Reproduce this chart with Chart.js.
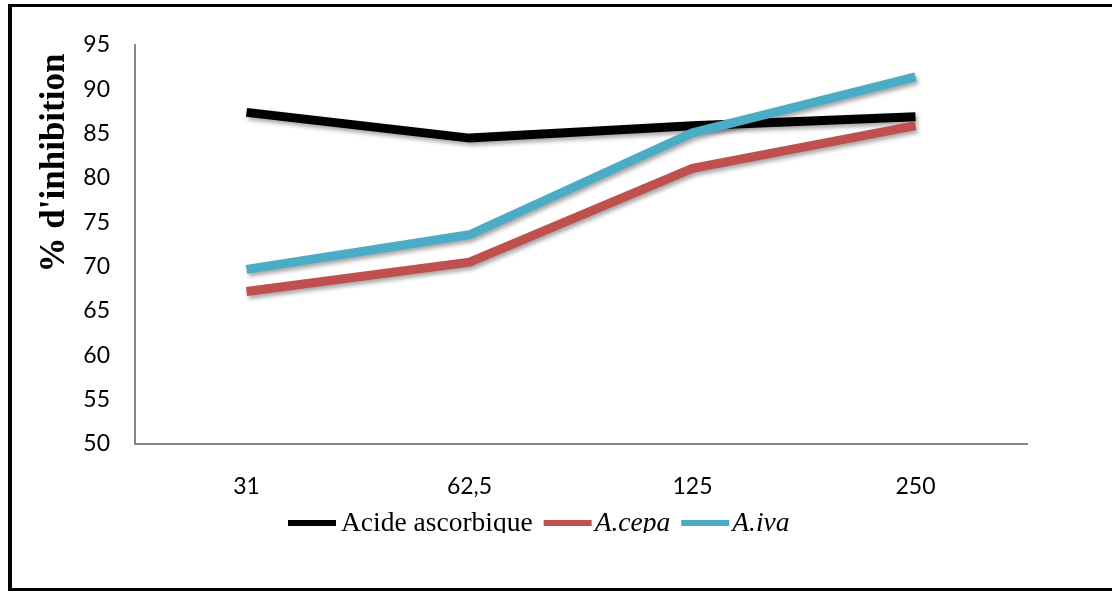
<!DOCTYPE html>
<html>
<head>
<meta charset="utf-8">
<script src="https://cdn.jsdelivr.net/npm/chart.js@4/dist/chart.umd.min.js"></script>
<style>
  body { margin: 0; background: #fff; overflow: hidden; }
  #wrap { position: relative; width: 1112px; height: 592px; }
  #frame {
    position: absolute; left: 8px; top: 4px; width: 1200px; height: 587px;
    box-sizing: border-box; border: 3px solid #000; border-left-width: 4px;
    pointer-events: none;
  }
</style>
</head>
<body>
<div id="wrap">
  <canvas id="graphCanvas" width="1112" height="592"></canvas>
  <div id="frame"></div>
</div>
<script>
// concentrations (x axis)
var categories = ['31', '62,5', '125', '250'];

// % inhibition per sample
var acideAscorbique = [87.4, 84.5, 85.9, 86.9];
var aCepa = [67.2, 70.5, 81.1, 85.9];
var aIva = [69.7, 73.6, 85.1, 91.4];

var seriesNames = ['Acide ascorbique', 'A.cepa', 'A.iva'];
var seriesItalic = [false, true, true];
var seriesColors = ['#000000', '#C0504D', '#4BACC6'];

var yMin = 50, yMax = 95, yStep = 5;
var yTitle = "% d'inhibition";

// soft drop shadow under each line
var shadowPlugin = {
  id: 'lineShadow',
  beforeDatasetDraw: function(chart) {
    var ctx = chart.ctx;
    ctx.save();
    ctx.shadowColor = 'rgba(0,0,0,0.35)';
    ctx.shadowBlur = 4;
    ctx.shadowOffsetX = 2;
    ctx.shadowOffsetY = 3;
  },
  afterDatasetDraw: function(chart) {
    chart.ctx.restore();
  }
};

// y title + legend row under the axis (mixed upright / italic labels)
var textPlugin = {
  id: 'extraText',
  afterDraw: function(chart) {
    var ctx = chart.ctx;

    ctx.save();
    ctx.translate(64, 163);
    ctx.rotate(-Math.PI / 2);
    ctx.font = 'bold 35px "Liberation Serif"';
    ctx.fillStyle = '#000';
    ctx.textAlign = 'center';
    ctx.textBaseline = 'alphabetic';
    ctx.fillText(yTitle, 0, 0);
    ctx.restore();

    ctx.save();
    ctx.beginPath();
    ctx.rect(0, 0, chart.width, 533);
    ctx.clip();
    var x = 288, y = 523;
    chart.data.datasets.forEach(function(ds, i) {
      ctx.fillStyle = ds.borderColor;
      ctx.fillRect(x, y - 3, 48, 6);
      x += 48 + (seriesItalic[i] ? 3 : 5);
      ctx.font = (seriesItalic[i] ? 'italic ' : '') + '27.5px "Liberation Serif"';
      ctx.fillStyle = '#000';
      ctx.textBaseline = 'alphabetic';
      ctx.textAlign = 'left';
      ctx.fillText(ds.label, x, 531);
      x += ctx.measureText(ds.label).width + 11;
    });
    ctx.restore();
  }
};

var datasets = [
  { label: seriesNames[0], data: acideAscorbique, borderColor: seriesColors[0], order: 2 },
  { label: seriesNames[1], data: aCepa, borderColor: seriesColors[1], order: 1 },
  { label: seriesNames[2], data: aIva, borderColor: seriesColors[2], order: 0 }
].map(function(d) {
  d.backgroundColor = d.borderColor;
  d.borderWidth = 9;
  d.fill = false;
  d.tension = 0;
  d.pointRadius = 0;
  d.pointHoverRadius = 0;
  d.borderCapStyle = 'butt';
  d.borderJoinStyle = 'miter';
  return d;
});

var tickFont = { family: 'Lato', size: 23 };
var axisBorder = { display: true, color: '#868686', width: 2 };

var chart = new Chart(document.getElementById('graphCanvas'), {
  type: 'line',
  data: { labels: categories, datasets: datasets },
  options: {
    responsive: false,
    animation: false,
    events: [],
    layout: { padding: { top: 45, right: 85, bottom: 0, left: 0 } },
    plugins: {
      legend: { display: false },
      tooltip: { enabled: false },
      title: { display: false }
    },
    scales: {
      x: {
        offset: true,
        grid: { display: false, drawTicks: false },
        border: axisBorder,
        ticks: { font: tickFont, color: '#000', padding: 29, maxRotation: 0 },
        afterFit: function(scale) { scale.height = 148; }
      },
      y: {
        min: yMin,
        max: yMax,
        grid: { display: false, drawTicks: false },
        border: axisBorder,
        ticks: { stepSize: yStep, font: tickFont, color: '#000', padding: 25 },
        afterFit: function(scale) { scale.width = 135; }
      }
    }
  },
  plugins: [shadowPlugin, textPlugin]
});
</script>
</body>
</html>
